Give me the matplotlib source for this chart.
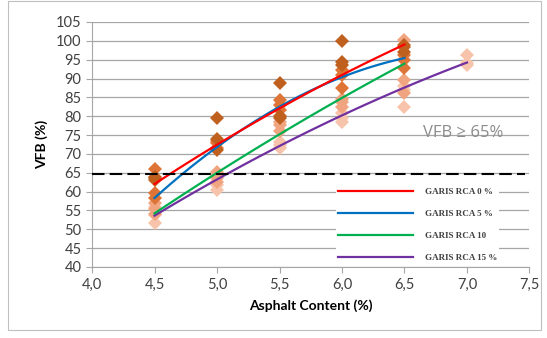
import matplotlib as mpl
mpl.use('Agg')
import matplotlib.pyplot as plt
import numpy as np
from matplotlib.lines import Line2D
from matplotlib.patches import Rectangle

# measured VFB (%) per asphalt content, three samples each
asphalt = [4.5, 5.0, 5.5, 6.0, 6.5]
asphalt_15 = [4.5, 5.0, 5.5, 6.0, 6.5, 7.0]

vfb_rca0 = [[64.0, 63.0, 63.5], [79.4, 73.9, 71.0], [88.7, 80.0, 79.5],
            [100.0, 94.5, 93.6], [98.4, 97.1, 98.8]]
vfb_rca5 = [[66.0, 59.5, 58.2], [72.8, 73.5, 71.5], [84.3, 83.0, 81.6],
            [92.3, 87.4, 91.0], [96.2, 92.7, 95.0]]
vfb_rca10 = [[57.0, 55.5, 54.0], [65.3, 63.5, 62.5], [77.7, 78.5, 76.0],
             [83.8, 82.5, 84.5], [100.2, 89.6, 86.1]]
vfb_rca15 = [[56.0, 53.8, 51.7], [64.5, 61.7, 60.4], [73.2, 72.4, 71.5],
             [80.8, 78.5, 79.5], [82.5, 88.0, 87.0], [96.2, 94.0, 93.5]]

# trend line values read at each asphalt content
trend_rca0 = [62.0, 72.5, 82.0, 91.0, 99.0]
trend_rca5 = [58.2, 72.0, 82.5, 90.2, 95.5]
trend_rca10 = [54.2, 65.0, 75.3, 84.7, 94.0]
trend_rca15 = [53.5, 63.5, 72.0, 80.0, 87.8, 94.2]

labels = ['GARIS RCA 0 %', 'GARIS RCA 5 %', 'GARIS RCA 10', 'GARIS RCA 15 %']
threshold = 64.8
xticks = [4.0, 4.5, 5.0, 5.5, 6.0, 6.5, 7.0, 7.5]
yticks = list(range(40, 106, 5))

marker_colors = ['#C0601F', '#DE7436', '#F0A47F', '#F7C4AB']
line_colors = ['#FF0000', '#0070C0', '#00B050', '#7030A0']

fig = plt.figure(figsize=(5.47, 3.38), dpi=100)
ax = fig.add_axes([0.1682, 0.2101, 0.7998, 0.7249])

fig.patches.append(Rectangle((8 / 547, 8 / 338), 533 / 547, 329 / 338,
                             transform=fig.transFigure, fill=False,
                             edgecolor='#BFBFBF', linewidth=0.8))

groups = [(asphalt_15, vfb_rca15, trend_rca15),
          (asphalt, vfb_rca10, trend_rca10),
          (asphalt, vfb_rca5, trend_rca5),
          (asphalt, vfb_rca0, trend_rca0)]

# scatter points, palest drawn first
for i, (xs, vals, _) in enumerate(groups):
    c = marker_colors[3 - i]
    for x, reps in zip(xs, vals):
        ax.plot([x] * len(reps), reps, linestyle='none', marker='D',
                markersize=6.8, color=c, markeredgewidth=0, zorder=3)

# quadratic trend lines
for i, (xs, _, tr) in enumerate(groups):
    coef = np.polyfit(xs, tr, 2)
    xx = np.linspace(xs[0], xs[-1], 100)
    ax.plot(xx, np.polyval(coef, xx), color=line_colors[3 - i], lw=1.6, zorder=4)
handles = [Line2D([], [], color=c, lw=1.6) for c in line_colors]

ax.axhline(threshold, xmin=0, xmax=0.99, color='black', lw=1.5,
           dashes=(6, 2.5), zorder=5)
ax.text(6.65, 75.6, 'VFB \u2265 65%', color='#8C8C8C', fontsize=12,
        family=['Open Sans', 'DejaVu Sans'], va='center', ha='left',
        zorder=6)

leg = ax.legend(handles, labels, loc='lower left', bbox_to_anchor=(0.548, -0.005),
                frameon=True, framealpha=1, edgecolor='none', facecolor='white',
                handlelength=8.3, handletextpad=1.3, labelspacing=1.5,
                borderpad=0.2, prop={'family': 'Liberation Serif', 'size': 6.5,
                                     'weight': 'bold'})
for t in leg.get_texts():
    t.set_color('#404040')
leg.set_zorder(7)

ax.set_xlim(4.0, 7.5)
ax.set_ylim(40, 105)
ax.set_xticks(xticks)
ax.set_xticklabels([('%.1f' % v).replace('.', ',') for v in xticks])
ax.set_yticks(yticks)
ax.yaxis.grid(True, color='#A6A6A6', lw=0.9)
ax.set_axisbelow(True)

for s in ['top', 'right']:
    ax.spines[s].set_visible(False)
for s in ['left', 'bottom']:
    ax.spines[s].set_color('#A6A6A6')
ax.tick_params(colors='#A6A6A6', length=4, labelcolor='#404040',
               labelsize=10.5)
for lab in ax.get_xticklabels() + ax.get_yticklabels():
    lab.set_family('Lato')

ax.set_xlabel('Asphalt Content (%)', fontsize=10, fontweight='bold',
              family='Lato', labelpad=6)
ax.set_ylabel('VFB (%)', fontsize=10, fontweight='bold', family='Lato',
              labelpad=6)

fig.savefig('out.png', dpi=100)
